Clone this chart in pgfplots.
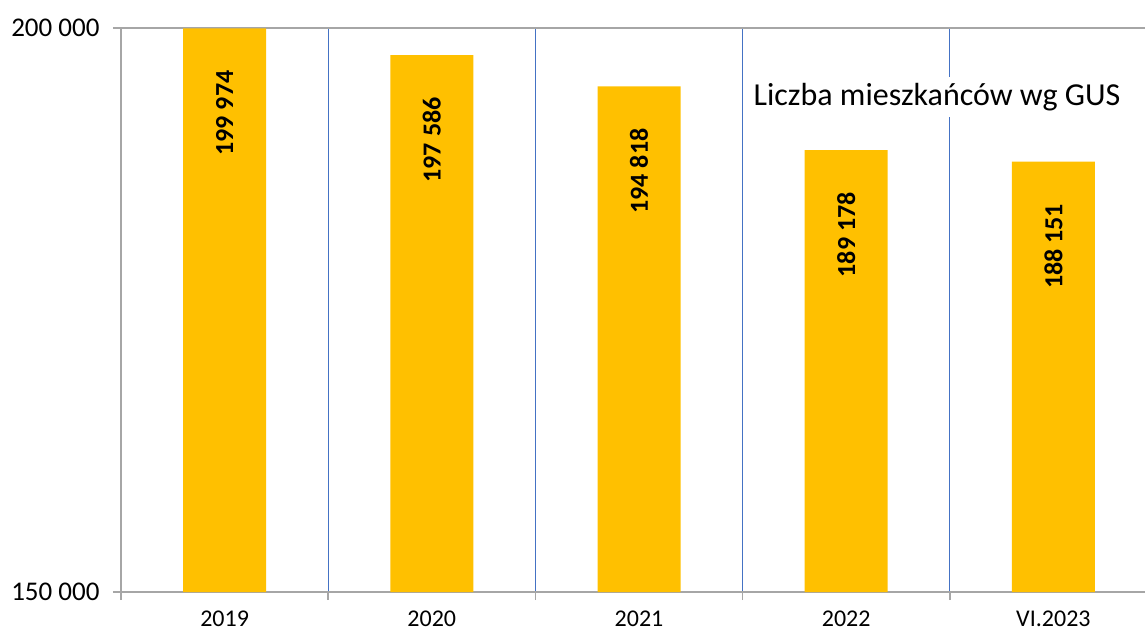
\documentclass[border=0pt]{standalone}
\usepackage{fontspec}
\setmainfont{Carlito}
\usepackage{pgfplots}
\pgfplotsset{compat=1.18}
\definecolor{barc}{HTML}{FFC000}
\definecolor{gridblue}{HTML}{4472C4}
\definecolor{axgray}{HTML}{A6A6A6}
\begin{document}
\begin{tikzpicture}
\begin{axis}[
  at={(0,0)}, anchor=south west,
  scale only axis, width=1036pt, height=564pt,
  xmin=-0.5, xmax=4.5, ymin=150000, ymax=200000,
  ybar, bar width=83pt,
  axis x line*=bottom, axis y line*=left,
  axis line style={axgray, line width=1.5pt},
  tick align=outside, major tick length=8pt, minor tick length=8pt,
  tick style={axgray, line width=1.5pt},
  major x tick style={draw=none},
  xtick={0,1,2,3,4},
  xticklabels={2019,2020,2021,2022,VI.2023},
  minor xtick={-0.5,0.5,1.5,2.5,3.5,4.5},
  xminorgrids, minor x grid style={gridblue, line width=1.2pt},
  scaled y ticks=false,
  ytick={150000,200000},
  yticklabels={150 000,200 000},
  ymajorgrids, major grid style={axgray, line width=1.5pt},
  xticklabel style={font=\fontsize{24}{28}\selectfont, inner sep=0pt, yshift=-11pt},
  yticklabel style={font=\fontsize{27}{30}\selectfont, xshift=-10pt},
  nodes near coords,
  point meta=explicit symbolic,
  every node near coord/.append style={font=\bfseries\fontsize{26}{30}\selectfont, yshift=-42pt, rotate=90, anchor=east, inner sep=0pt, black},
]
\addplot[fill=barc, draw=none] coordinates {
  (0,199974) [199 974]
  (1,197586) [197 586]
  (2,194818) [194 818]
  (3,189178) [189 178]
  (4,188151) [188 151]
};
\node[fill=white, font=\fontsize{32}{36}\selectfont, inner xsep=4pt, inner ysep=6pt] at (axis cs:3.438,193883) {Liczba mieszkańców wg GUS};
\end{axis}
\pgfresetboundingbox
\useasboundingbox (-121pt,-40pt) rectangle (1024pt,592pt);
\end{tikzpicture}
\end{document}
